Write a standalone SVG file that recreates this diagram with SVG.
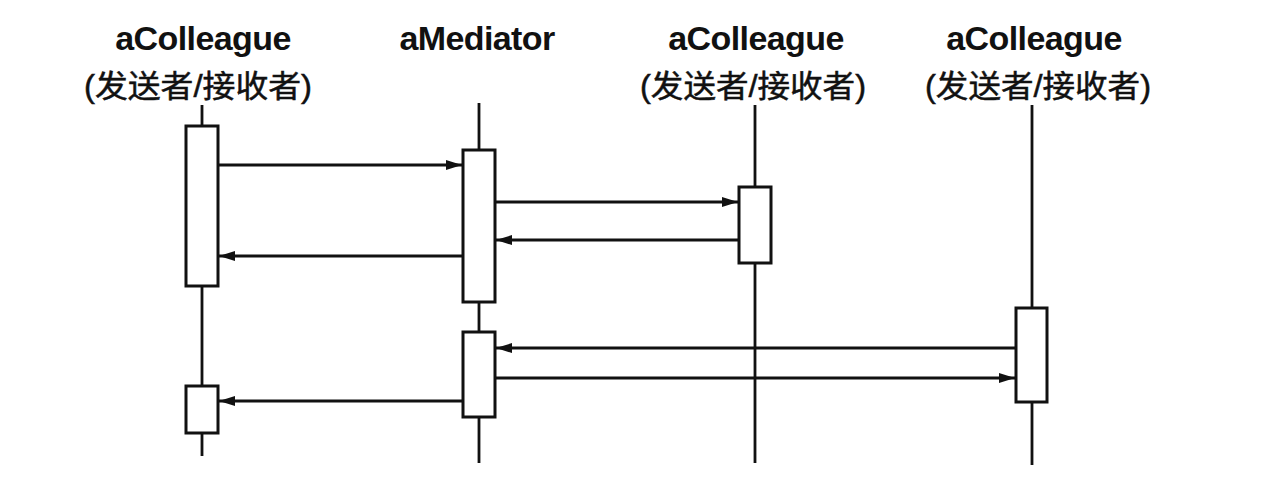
<svg xmlns="http://www.w3.org/2000/svg" width="1286" height="492" viewBox="0 0 1286 492">
<defs>
<style>
.title{font-family:"Liberation Sans",Arial,sans-serif;font-weight:bold;font-size:34px;fill:#111;text-anchor:middle;letter-spacing:-0.6px}
.sub{font-family:"Liberation Sans","Noto Sans CJK SC",sans-serif;font-size:31px;fill:#111;text-anchor:middle;stroke:#111;stroke-width:0.5}
.life{stroke:#111;stroke-width:2.8;fill:none}
.act{stroke:#111;stroke-width:3;fill:#fff}
.msg{stroke:#111;stroke-width:2.8;fill:none;marker-end:url(#ah)}
</style>
<marker id="ah" markerUnits="userSpaceOnUse" markerWidth="17" markerHeight="13" refX="16" refY="6.5" orient="auto">
<path d="M0,1.5 L16,6.5 L0,11.5 Z" fill="#111"/>
</marker>
</defs>
<rect width="1286" height="492" fill="#fff"/>

<g id="colleague1">
<text class="title" x="203" y="50">aColleague</text>
<text class="sub" x="198" y="97" textLength="228" lengthAdjust="spacingAndGlyphs">(发送者/接收者)</text>
<line class="life" x1="202" y1="105" x2="202" y2="456"/>
<rect class="act" x="186" y="126" width="32" height="160"/>
<rect class="act" x="186" y="386" width="32" height="47"/>
</g>

<g id="mediator">
<text class="title" x="477" y="50">aMediator</text>
<line class="life" x1="479" y1="103" x2="479" y2="463"/>
<rect class="act" x="463" y="150" width="32" height="152"/>
<rect class="act" x="463" y="332" width="32" height="85"/>
</g>

<g id="colleague2">
<text class="title" x="756" y="50">aColleague</text>
<text class="sub" x="753" y="97" textLength="226" lengthAdjust="spacingAndGlyphs">(发送者/接收者)</text>
<line class="life" x1="755" y1="105" x2="755" y2="463"/>
<rect class="act" x="739" y="187" width="32" height="76"/>
</g>

<g id="colleague3">
<text class="title" x="1034" y="50">aColleague</text>
<text class="sub" x="1038" y="97" textLength="226" lengthAdjust="spacingAndGlyphs">(发送者/接收者)</text>
<line class="life" x1="1032" y1="105" x2="1032" y2="465"/>
<rect class="act" x="1016" y="308" width="31" height="94"/>
</g>

<g id="connectors">
<line class="msg" x1="218" y1="165" x2="462" y2="165"/>
<line class="msg" x1="495" y1="202" x2="738" y2="202"/>
<line class="msg" x1="739" y1="240" x2="496" y2="240"/>
<line class="msg" x1="463" y1="256" x2="219" y2="256"/>
<line class="msg" x1="1016" y1="348" x2="496" y2="348"/>
<line class="msg" x1="495" y1="378" x2="1015" y2="378"/>
<line class="msg" x1="463" y1="401" x2="219" y2="401"/>
</g>
</svg>
